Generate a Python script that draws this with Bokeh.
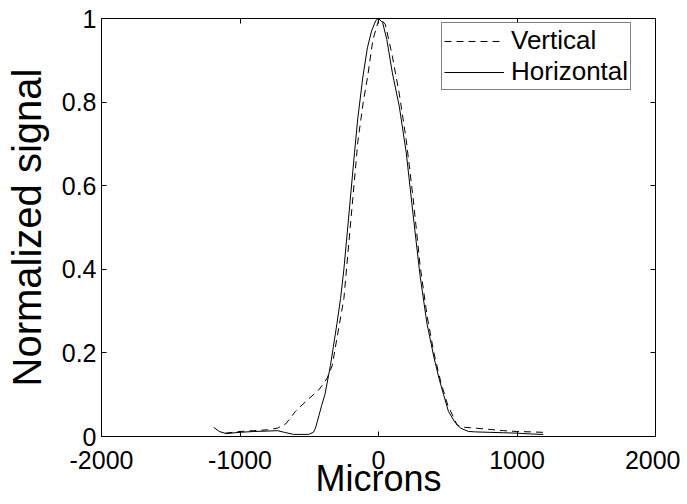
from bokeh.plotting import figure
from bokeh.models import Range1d, LinearAxis, FixedTicker, Legend, LegendItem
from bokeh.embed import file_html
from bokeh.resources import INLINE

# Horizontal profile (solid)
h_x = [-1190, -1150, -1100, -1000, -900, -800, -730, -680, -613, -560, -505, -470, -455,
       -430, -410, -387, -347, -300, -274, -250, -214, -173, -150, -113, -80, -50, -20, 0,
       30, 60, 100, 150, 200, 250, 300, 350, 400, 436, 470, 505, 550, 592, 650, 700, 800,
       900, 1000, 1100, 1190]
h_y = [0.022, 0.012, 0.007, 0.010, 0.012, 0.013, 0.014, 0.010, 0.005, 0.005, 0.005, 0.010, 0.020,
       0.050, 0.075, 0.100, 0.170, 0.270, 0.330, 0.400, 0.530, 0.680, 0.760, 0.860, 0.930, 0.970, 0.995, 1.0,
       0.990, 0.950, 0.870, 0.790, 0.680, 0.530, 0.385, 0.270, 0.190, 0.140, 0.100, 0.060, 0.035, 0.020, 0.012, 0.011, 0.010,
       0.009, 0.008, 0.006, 0.005]

# Vertical profile (dashed)
v_x = [-1105, -1000, -900, -800, -730, -670, -600, -515, -435, -400, -370, -334, -300, -250,
       -190, -149, -110, -77, -40, 0, 15, 50, 100, 150, 200, 250, 300, 350, 400, 450, 500,
       550, 568, 620, 664, 800, 902, 1000, 1100, 1191]
v_y = [0.008, 0.012, 0.014, 0.016, 0.020, 0.030, 0.060, 0.087, 0.110, 0.125, 0.140, 0.170, 0.235, 0.330,
       0.553, 0.706, 0.800, 0.864, 0.950, 0.995, 1.0, 0.985, 0.910, 0.820, 0.710, 0.570, 0.410, 0.290, 0.200, 0.130, 0.075,
       0.040, 0.027, 0.022, 0.021, 0.017, 0.014, 0.012, 0.011, 0.010]

x_ticks = [-2000, -1000, 0, 1000, 2000]
x_tick_labels = {-2000: "-2000", -1000: "-1000", 0: "0", 1000: "1000", 2000: "2000"}
y_ticks = [0, 0.2, 0.4, 0.6, 0.8, 1]
y_tick_labels = {0: "0", 0.2: "0.2", 0.4: "0.4", 0.6: "0.6", 0.8: "0.8", 1: "1"}

FONT = "Liberation Sans"

p = figure(width=680, height=502, output_backend="svg", toolbar_location=None,
           x_range=Range1d(-2000, 2000), y_range=Range1d(0, 1),
           min_border_left=101, min_border_top=18, min_border_right=25, min_border_bottom=66)
p.background_fill_color = "white"
p.border_fill_color = "white"
p.outline_line_color = "black"
p.outline_line_width = 1
p.xgrid.grid_line_color = None
p.ygrid.grid_line_color = None

rv = p.line(v_x, v_y, line_color="black", line_width=1, line_dash="7 5")
rh = p.line(h_x, h_y, line_color="black", line_width=1)

def style(ax, ticks, labels=True):
    ax.major_tick_in = 5
    ax.major_tick_out = 0
    ax.minor_tick_line_color = None
    ax.axis_line_color = "black"
    ax.major_tick_line_color = "black"
    ax.major_label_text_font = FONT
    ax.major_label_text_color = "black"
    if labels:
        ax.major_label_text_font_size = "25px"
    else:
        ax.major_label_text_font_size = "1px"
        ax.major_label_standoff = 0
        ax.major_label_overrides = {t: "" for t in ticks}

xa = p.xaxis[0]
xa.ticker = FixedTicker(ticks=x_ticks)
style(xa, x_ticks)
xa.major_label_overrides = x_tick_labels
xa.major_label_standoff = 14
xa.axis_label = "Microns"
xa.axis_label_text_font = FONT
xa.axis_label_text_font_size = "36px"
xa.axis_label_text_font_style = "normal"
xa.axis_label_text_color = "black"
xa.axis_label_standoff = -14

ya = p.yaxis[0]
ya.ticker = FixedTicker(ticks=y_ticks)
ya.major_label_overrides = y_tick_labels
style(ya, y_ticks)
ya.major_label_standoff = 5
ya.axis_label = "Normalized signal"
ya.axis_label_text_font = FONT
ya.axis_label_text_font_size = "40px"
ya.axis_label_text_font_style = "normal"
ya.axis_label_text_color = "black"
ya.axis_label_standoff = 10

top = LinearAxis(ticker=FixedTicker(ticks=x_ticks))
style(top, x_ticks, labels=False)
p.add_layout(top, "above")
right = LinearAxis(ticker=FixedTicker(ticks=y_ticks))
style(right, y_ticks, labels=False)
p.add_layout(right, "right")

legend = Legend(items=[LegendItem(label="Vertical", renderers=[rv]),
                       LegendItem(label="Horizontal", renderers=[rh])],
                location=(340, 346))
legend.label_text_font = FONT
legend.label_text_font_size = "26px"
legend.label_text_color = "black"
legend.border_line_color = "black"
legend.border_line_width = 1
legend.background_fill_color = "white"
legend.background_fill_alpha = 1
legend.glyph_width = 60
legend.glyph_height = 20
legend.label_height = 20
legend.label_standoff = 7
legend.padding = 2
legend.spacing = 0
legend.margin = 0
p.add_layout(legend, "center")

open("out.html", "w").write(file_html(p, INLINE))
